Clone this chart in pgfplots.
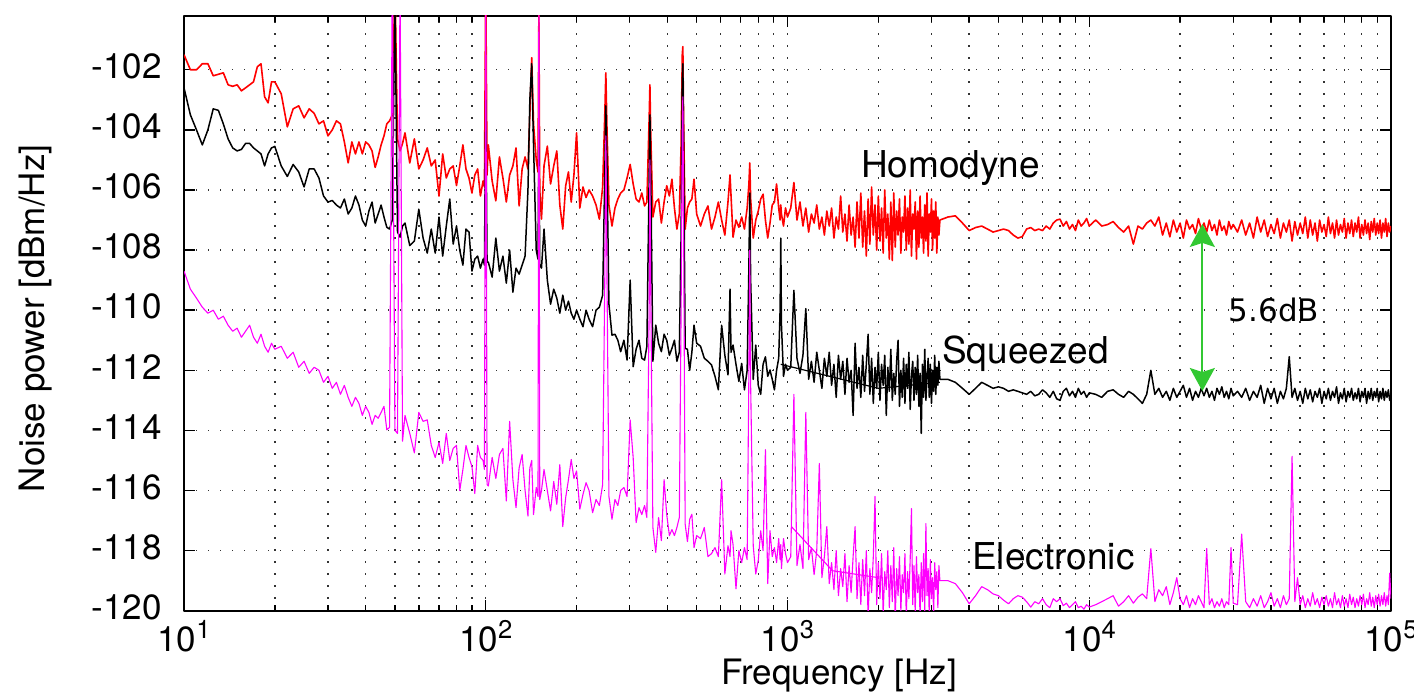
\documentclass[border=0pt]{standalone}
\usepackage{fontspec}
\setmainfont{TeX Gyre Heros}
\newfontfamily\dejavu{DejaVu Sans}
\usepackage{pgfplots}
\usepackage{pgfplotstable}
\pgfplotsset{compat=1.18}
\usetikzlibrary{arrows.meta}
\definecolor{arrowgreen}{RGB}{50,200,50}
\definecolor{hred}{RGB}{255,0,0}
\definecolor{emag}{RGB}{255,0,255}
\newcommand{\tenp}[1]{10\raisebox{6.3bp}{\fontsize{12.8bp}{12.8bp}\selectfont #1}}

\pgfplotstableread{
f H S E
10 -101.5 -102.6 -108.7
10.5 -102.0 -103.5 -109.3
11 -102.0 -104.0 -109.6
11.5 -101.8 -104.5 -109.9
12 -101.8 -104.0 -110.1
12.5 -102.2 -103.3 -110.0
13 -102.15 -103.35 -110.3
13.5 -102.1 -103.8 -110.2
14 -102.5 -104.3 -110.5
14.5 -102.55 -104.6 -110.7
15 -102.5 -104.7 -110.6
15.5 -102.7 -104.65 -110.9
16 -102.6 -104.45 -110.7
16.5 -102.5 -104.45 -110.5
17 -102.4 -104.6 -110.9
17.5 -101.9 -104.7 -111.1
18 -101.8 -104.8 -110.8
18.5 -102.9 -105.2 -111.2
19 -103.1 -104.8 -111.4
19.5 -102.4 -104.6 -111.1
20 -102.4 -104.55 -111.3
21 -102.8 -105.2 -111.2
22 -103.9 -105.55 -111.6
23 -103.3 -105.15 -111.4
24 -103.2 -105.4 -111.9
25 -103.6 -105.9 -111.7
26 -103.3 -105.3 -112.1
27 -103.45 -105.3 -111.9
28 -103.8 -105.6 -112.0
29 -103.7 -106.2 -112.4
30 -104.2 -106.4 -112.2
31 -104.0 -106.35 -112.6
32 -103.7 -106.5 -112.4
33 -103.8 -106.6 -112.8
34 -104.4 -106.3 -112.5
35 -105.1 -106.8 -112.9
36 -104.4 -106.6 -113.2
37 -104.8 -106.2 -112.9
38 -104.4 -106.5 -113.1
39 -104.8 -107.0 -113.5
40 -104.4 -107.2 -113.2
41 -104.5 -106.7 -113.4
42 -104.7 -106.4 -113.8
43 -105.25 -107.1 -113.5
44 -104.9 -106.8 -113.6
45 -104.5 -106.5 -113.4
46 -104.2 -106.9 -113.2
47 -103.8 -107.24 -113.98
48 -103.7 -107.3 -113.9
49 -103.5 -107.0 -99
50 -99 -99.5 -114.0
51 -104.3 -107.4 -114.1
52 -104.7 -107.57 -99
53 -104.45 -107.2 -114.36
54 -104.1 -107.1 -113.5
56 -105.1 -107.85 -114.1
58 -104.3 -107.7 -114.75
60 -105.3 -106.64 -113.4
62 -105.0 -107.6 -113.7
64 -104.6 -108.1 -113.65
66 -105.2 -107.3 -114.5
68 -105.0 -108.1 -114.9
70 -106.2 -106.9 -114.4
72 -104.8 -108.2 -115.1
74 -105.6 -107.2 -114.1
76 -105.3 -106.3 -115.0
78 -105.2 -107.8 -114.6
80 -105.85 -107.2 -114.5
82 -105.2 -108.0 -116.0
84 -104.5 -108.5 -115.3
86 -105.3 -107.3 -114.5
88 -105.6 -107.4 -114.9
90 -106.1 -108.7 -115.2
92 -105.5 -108.3 -116.1
94 -105.3 -108.2 -114.5
96 -106.2 -108.6 -114.9
98 -105.7 -108.3 -115.0
99 -105.9 -108.5 -115.3
100 -99 -103.0 -99
101 -105.5 -108.4 -115.8
102 -104.5 -108.4 -115.85
105 -105.7 -108.9 -114.9
108 -106.36 -107.6 -115.6
111 -104.9 -108.7 -114.8
114 -105.6 -108.2 -114.6
117 -106.4 -109.1 -116.35
120 -105.5 -108.0 -113.7
123 -105.2 -109.4 -115.64
126 -104.6 -108.6 -116.57
129 -106.53 -108.8 -115.25
132 -105.3 -108.5 -114.8
135 -104.9 -108.2 -116.0
138 -105.3 -106.0 -116.85
140 -103.5 -103.0 -115.25
142 -101.6 -101.8 -115.0
144 -103.8 -104.5 -116.8
147 -105.0 -108.0 -115.9
149 -105.4 -108.3 -116.2
150 -100 -104 -99
151 -106.0 -108.5 -116.3
153 -106.97 -108.6 -116.0
156 -105.2 -107.3 -115.3
160 -104.54 -109.0 -116.0
164 -105.8 -109.8 -116.68
168 -105.2 -109.3 -115.7
172 -104.7 -109.6 -116.46
176 -106.5 -110.1 -115.14
180 -107.3 -109.5 -117.2
184 -105.86 -110.0 -116.24
188 -105.4 -109.7 -115.64
192 -106.4 -110.1 -114.97
196 -105.5 -110.3 -115.6
200 -104.1 -110.0 -115.35
205 -106.6 -110.3 -116.62
210 -105.9 -110.55 -116.13
215 -106.25 -110.0 -115.74
220 -106.0 -110.3 -116.0
226 -106.2 -110.55 -116.74
232 -106.5 -110.0 -116.3
238 -106.97 -109.9 -116.5
244 -105.9 -109.5 -115.8
248 -103.5 -105.5 -109.0
250 -102.1 -103.2 -104.2
252 -103.8 -105.0 -108.5
256 -106.5 -109.8 -116.2
262 -107.2 -110.83 -116.96
268 -106.6 -110.8 -116.3
274 -106.3 -111.0 -116.5
280 -106.1 -111.38 -116.0
287 -106.0 -111.0 -115.9
294 -105.6 -111.66 -116.2
301 -105.15 -109.0 -113.65
308 -105.8 -111.88 -114.9
315 -106.3 -111.3 -117.07
322 -106.4 -111.0 -116.57
329 -106.1 -111.6 -116.8
336 -106.53 -111.66 -116.5
342 -106.4 -111.2 -116.9
348 -103.6 -105.5 -110.0
350 -102.5 -103.5 -105.0
352 -104.0 -105.2 -109.0
358 -106.9 -111.7 -117.23
366 -106.4 -110.5 -118.06
374 -106.3 -111.1 -116.9
382 -107.1 -111.38 -117.67
390 -106.4 -110.8 -115.64
398 -105.86 -111.0 -116.8
406 -106.2 -111.5 -117.5
414 -105.64 -111.27 -117.3
422 -106.6 -111.0 -117.5
430 -107.3 -111.7 -117.23
438 -106.8 -111.4 -116.9
444 -104.5 -107.5 -110.0
448 -101.5 -102.5 -104.0
450 -101.23 -101.8 -102.9
452 -103.2 -103.8 -106.0
458 -107.3 -111.27 -117.12
466 -106.6 -111.3 -117.7
474 -106.4 -112.0 -116.96
482 -106.3 -111.4 -116.79
490 -105.64 -110.5 -117.9
500 -106.8 -111.1 -117.5
515 -107.2 -111.2 -117.6
530 -106.8 -111.6 -117.23
545 -106.53 -111.7 -118.2
560 -107.3 -111.82 -118.1
575 -106.9 -112.2 -117.9
590 -106.4 -112.65 -118.2
605 -107.0 -110.5 -115.64
620 -107.5 -111.5 -118.78
635 -106.4 -112.15 -117.84
645 -105.5 -109.3 -118.2
650 -106.2 -111.4 -117.34
660 -107.57 -111.16 -117.8
675 -107.0 -111.8 -119.27
690 -107.24 -112.37 -118.0
705 -106.9 -111.77 -118.4
720 -107.3 -112.65 -117.9
735 -106.6 -112.0 -118.3
745 -105.8 -108.5 -112.0
750 -105.1 -106.1 -108.0
755 -106.3 -109.0 -112.5
770 -107.6 -112.3 -117.84
785 -107.0 -111.16 -118.78
800 -106.7 -112.5 -118.33
815 -106.3 -112.8 -117.34
830 -106.14 -111.8 -118.0
845 -107.0 -111.55 -114.64
860 -107.6 -112.2 -119.1
875 -107.1 -111.99 -117.34
890 -106.5 -112.3 -118.2
905 -106.4 -112.65 -117.9
920 -105.8 -112.0 -118.4
935 -106.6 -111.6 -117.6
945 -107.0 -110.0 -118.3
950 -106.5 -107.6 -117.8
955 -106.8 -110.5 -118.6
970 -107.2 -112.2 -117.6
985 -106.6 -111.8 -118.1
1000 -106.9 -112.0 -118.4
1025 -106.6 -111.9 -118.2
1050 -105.75 -109.34 -112.8
1075 -107.0 -111.6 -118.5
1100 -106.4 -112.1 -117.8
1125 -107.2 -111.5 -118.6
1150 -106.6 -109.95 -113.4
1175 -107.4 -112.3 -118.3
1200 -106.8 -111.7 -117.9
1225 -107.1 -112.4 -118.8
1250 -106.5 -111.4 -118.0
1275 -107.3 -112.0 -115.1
1300 -106.9 -112.6 -118.9
1325 -107.5 -111.6 -118.2
1350 -106.7 -112.2 -117.2
1375 -107.2 -111.4 -119.1
1400 -106.6 -112.5 -118.4
1425 -107.6 -111.8 -119.3
1450 -106.9 -112.9 -118.0
1475 -107.3 -111.5 -119.5
1500 -106.2 -112.3 -118.6
1525 -107.4 -111.7 -119.2
1550 -106.8 -112.8 -118.1
1575 -107.7 -111.6 -119.7
1600 -106.5 -112.4 -118.5
1625 -107.5 -112.0 -119.4
1650 -106.9 -113.5 -118.2
1675 -107.9 -111.1 -117.2
1700 -106.4 -112.6 -119.6
1725 -107.6 -111.9 -118.4
1750 -106.1 -112.9 -119.8
1775 -107.9 -111.5 -118.3
1800 -106.7 -112.7 -119.5
1825 -108.2 -111.8 -118.0
1850 -106.3 -110.8 -120.2
1875 -107.8 -112.8 -118.6
1900 -105.9 -111.6 -119.4
1925 -107.5 -113.1 -118.2
1950 -106.5 -111.9 -116.2
1975 -108.0 -112.6 -119.8
2000 -106.2 -111.4 -118.4
2025 -107.7 -113.0 -119.6
2050 -106.6 -111.8 -118.1
2075 -108.1 -112.5 -120.1
2100 -106.0 -111.5 -118.7
2125 -107.6 -113.5 -119.3
2150 -106.8 -111.9 -118.0
2175 -108.3 -112.7 -119.9
2200 -106.4 -111.3 -118.5
2225 -108.35 -113.0 -119.7
2250 -106.1 -112.1 -117.9
2275 -107.9 -112.8 -120.3
2300 -106.7 -111.7 -118.6
2325 -107.5 -111.0 -119.5
2350 -106.3 -113.2 -118.2
2375 -108.1 -112.0 -120.0
2400 -106.9 -112.9 -118.8
2425 -107.4 -111.6 -119.4
2450 -106.2 -113.1 -118.1
2475 -108.0 -111.8 -120.2
2500 -106.6 -112.6 -118.7
2525 -107.8 -111.4 -119.6
2550 -106.0 -113.3 -118.3
2575 -108.2 -112.2 -116.6
2600 -106.8 -111.7 -119.8
2625 -107.3 -113.0 -118.5
2650 -106.4 -111.9 -120.1
2675 -108.3 -112.8 -118.2
2700 -106.7 -111.5 -119.4
2725 -107.9 -113.2 -118.8
2750 -106.2 -112.1 -120.2
2775 -107.6 -114.1 -118.4
2800 -106.9 -111.8 -119.7
2825 -108.1 -112.9 -118.1
2850 -106.5 -111.3 -120.0
2875 -107.7 -113.0 -117.1
2900 -106.1 -112.2 -119.5
2925 -108.2 -111.6 -118.6
2950 -106.8 -112.9 -120.2
2975 -107.4 -111.8 -118.3
3000 -106.3 -113.1 -119.6
3025 -108.0 -112.0 -118.9
3050 -106.7 -112.7 -120.1
3075 -107.6 -111.5 -118.4
3100 -106.4 -112.8 -119.3
3125 -108.1 -111.9 -118.7
3150 -106.9 -112.5 -119.9
3175 -107.5 -111.7 -118.5
3200 -107.0 -112.3 -119.0
3400 -106.9 -112.3 -119.0
3600 -106.86 -112.4 -119.1
3800 -107.1 -112.6 -119.4
4000 -107.35 -112.8 -119.77
4200 -107.25 -112.6 -119.5
4400 -107.2 -112.4 -119.2
4600 -107.3 -112.5 -119.3
4800 -107.4 -112.6 -119.44
5000 -107.35 -112.55 -119.5
5200 -107.3 -112.6 -119.65
5400 -107.35 -112.7 -119.77
5600 -107.5 -112.65 -119.6
5800 -107.6 -112.7 -119.5
6000 -107.55 -112.75 -119.55
6200 -107.3 -112.8 -119.7
6400 -107.25 -112.7 -119.88
6600 -107.35 -112.85 -119.7
6800 -107.3 -112.8 -119.77
7000 -107.35 -112.65 -119.6
7200 -107.2 -112.75 -119.8
7400 -107.3 -112.9 -119.9
7600 -107.1 -112.7 -119.6
7800 -107.0 -112.95 -119.7
8000 -106.97 -113.0 -119.6
8200 -107.2 -112.7 -119.83
8400 -107.05 -112.6 -119.75
8600 -107.3 -112.85 -119.9
8800 -107.15 -112.7 -119.8
9000 -107.35 -112.9 -119.7
9200 -107.0 -112.6 -119.9
9400 -107.2 -112.8 -119.85
9600 -107.1 -112.7 -119.95
9800 -106.95 -112.9 -119.8
10000 -107.2 -112.75 -119.88
10500 -107.0 -112.8 -119.8
11000 -107.2 -112.9 -119.7
11500 -107.15 -112.7 -119.6
12000 -107.05 -112.65 -119.5
12500 -107.25 -112.8 -119.85
13000 -107.4 -112.9 -119.7
13500 -107.2 -112.7 -119.5
14000 -107.8 -112.8 -119.75
14500 -107.2 -112.95 -119.55
15000 -107.3 -113.1 -119.44
15500 -107.1 -112.8 -119.6
16000 -107.0 -112.0 -117.93
16500 -107.2 -112.8 -119.7
17000 -106.9 -112.6 -119.3
17500 -107.5 -112.9 -119.5
18000 -107.1 -112.7 -119.2
18500 -107.56 -113.0 -119.8
19000 -107.0 -112.6 -119.4
19500 -107.4 -112.9 -118.9
20000 -107.1 -112.7 -119.6
20500 -107.6 -112.5 -119.8
21000 -107.0 -112.9 -119.5
21500 -107.3 -112.6 -119.9
22000 -107.15 -113.0 -119.6
22500 -107.45 -112.7 -119.8
23000 -106.95 -112.9 -119.5
23500 -107.3 -112.6 -119.7
24000 -107.1 -112.85 -119.9
24500 -107.4 -112.6 -117.93
25000 -107.0 -112.9 -119.8
25500 -107.35 -112.7 -119.6
26000 -107.15 -113.0 -119.9
26500 -107.5 -112.6 -119.7
27000 -107.0 -112.8 -119.85
27500 -107.35 -112.55 -119.6
28000 -107.2 -112.9 -119.9
28500 -107.5 -112.7 -119.7
29000 -107.05 -112.95 -119.8
29500 -107.3 -112.6 -117.9
30000 -107.15 -112.85 -119.75
31000 -107.4 -112.7 -119.8
32000 -107.0 -112.9 -117.45
33000 -107.5 -112.6 -119.7
34000 -107.1 -113.0 -119.9
35000 -107.6 -112.7 -119.6
36000 -106.9 -112.9 -119.85
37000 -107.4 -112.5 -119.5
38000 -107.0 -113.1 -119.9
39000 -107.55 -112.6 -119.7
40000 -107.15 -112.95 -119.4
41000 -107.45 -112.6 -119.85
42000 -106.95 -113.1 -119.6
43000 -107.6 -112.7 -119.9
44000 -107.1 -112.95 -119.5
45000 -107.4 -112.6 -119.8
46000 -107.0 -111.55 -119.6
47000 -107.7 -112.9 -114.86
48000 -107.05 -112.6 -119.7
49000 -107.5 -113.0 -118.9
50000 -107.1 -112.7 -119.8
51000 -107.45 -113.1 -119.5
52000 -106.9 -112.6 -119.9
53000 -107.6 -112.95 -119.6
54000 -107.0 -112.65 -119.85
55000 -107.5 -113.05 -119.4
56000 -107.1 -112.7 -119.8
57000 -107.7 -112.9 -119.6
58000 -107.0 -112.6 -119.9
59000 -107.4 -113.1 -119.55
60000 -107.15 -112.7 -119.8
61000 -107.55 -112.95 -119.5
62000 -106.9 -112.6 -119.85
63000 -107.45 -113.0 -119.6
64000 -107.1 -112.7 -119.9
65000 -107.6 -112.9 -119.4
66000 -107.0 -112.55 -119.8
67000 -107.5 -113.1 -119.6
68000 -107.15 -112.75 -119.9
69000 -107.4 -112.95 -119.5
70000 -106.95 -112.6 -119.85
71000 -107.6 -113.05 -119.6
72000 -107.1 -112.7 -119.9
73000 -107.45 -112.9 -119.45
74000 -107.0 -112.6 -119.8
75000 -107.55 -113.0 -119.55
76000 -107.1 -112.75 -119.9
77000 -107.4 -112.95 -119.6
78000 -106.9 -112.6 -119.85
79000 -107.6 -113.05 -119.5
80000 -107.15 -112.7 -119.8
81000 -107.5 -112.9 -119.45
82000 -107.0 -112.6 -119.9
83000 -107.45 -113.1 -119.6
84000 -107.1 -112.7 -119.8
85000 -107.65 -112.95 -119.4
86000 -107.05 -112.6 -119.85
87000 -107.4 -113.0 -119.55
88000 -106.95 -112.7 -119.9
89000 -107.5 -112.9 -119.5
90000 -107.1 -112.6 -119.8
91000 -107.45 -113.05 -119.45
92000 -107.0 -112.7 -119.85
93000 -107.6 -112.95 -119.5
94000 -107.1 -112.6 -119.8
95000 -107.4 -113.0 -119.4
96000 -106.95 -112.7 -119.85
97000 -107.55 -112.9 -119.5
98000 -107.1 -112.65 -119.8
99000 -107.4 -113.0 -118.75
100000 -107.2 -112.8 -119.6
}\spec

\begin{document}
\begin{tikzpicture}
\begin{axis}[
  at={(0,0)}, anchor=south west,
  scale only axis, width=603.5bp, height=297.35bp,
  xmode=log, xmin=10, xmax=100000, ymin=-120, ymax=-100.21,
  xtick={10,100,1000,10000,100000},
  xticklabels={\tenp{1},\tenp{2},\tenp{3},\tenp{4},\tenp{5}},
  minor xtick={20,30,40,50,60,70,80,90,200,300,400,500,600,700,800,900,2000,3000,4000,5000,6000,7000,8000,9000,20000,30000,40000,50000,60000,70000,80000,90000},
  ytick={-120,-118,-116,-114,-112,-110,-108,-106,-104,-102},
  yticklabels={-120,-118,-116,-114,-112,-110,-108,-106,-104,-102},
  xmajorgrids=true, xminorgrids=true, ymajorgrids=true,
  grid style={line width=0.7bp, black!80, dash pattern=on 0.7bp off 5.3bp},
  major tick length=5.5bp, minor tick length=3bp,
  every tick/.style={black, line width=0.7bp},
  axis line style={line width=0.8bp},
  tick label style={font=\fontsize{17.5bp}{21bp}\selectfont, inner sep=0pt},
  xticklabel style={anchor=base, yshift=-20.15bp},
  yticklabel style={anchor=east, xshift=-11bp, yshift=1.7bp},
  xlabel={Frequency [Hz]}, ylabel={Noise power [dBm/Hz]},
  label style={font=\fontsize{17.5bp}{21bp}\selectfont, inner sep=0pt},
  xlabel style={at={(axis description cs:0.5427,-0.1233)}, anchor=base},
  ylabel style={at={(axis description cs:-0.1152,0.4915)}, anchor=base},
  line join=round,
]
\addplot[hred, line width=0.8bp, mark=none] table[x=f,y=H]{\spec};
\addplot[black, line width=0.75bp, mark=none] table[x=f,y=S]{\spec};
\addplot[black, line width=0.6bp, mark=none] coordinates {(950,-111.8) (2000,-112.6) (3200,-112.4)};
\addplot[emag, line width=0.55bp, mark=none] table[x=f,y=E]{\spec};
\addplot[emag, line width=0.55bp, mark=none] coordinates {(1030,-117.2) (1410,-118.67) (2000,-118.9)};
\draw[arrowgreen, line width=1bp, {Stealth[length=11.5bp,width=12.5bp,inset=2bp]}-{Stealth[length=11.5bp,width=12.5bp,inset=2bp]}]
  (axis cs:23700,-107.13) -- (axis cs:23700,-112.69);
\node[anchor=base west, inner sep=0pt, font=\fontsize{18.5bp}{22bp}\selectfont] at (axis cs:1750,-105.586) {Homodyne};
\node[anchor=base west, inner sep=0pt, font=\fontsize{18.5bp}{22bp}\selectfont] at (axis cs:3246,-111.79) {Squeezed};
\node[anchor=base west, inner sep=0pt, font=\fontsize{18.5bp}{22bp}\selectfont] at (axis cs:4083,-118.63) {Electronic};
\node[anchor=base west, inner sep=0pt, font=\dejavu\fontsize{15.5bp}{18bp}\selectfont] at (axis cs:28930,-110.37) {5.6dB};
\end{axis}
\pgfresetboundingbox
\path[use as bounding box] (-92bp,-40.65bp) rectangle (615bp,305.35bp);
\end{tikzpicture}
\end{document}
